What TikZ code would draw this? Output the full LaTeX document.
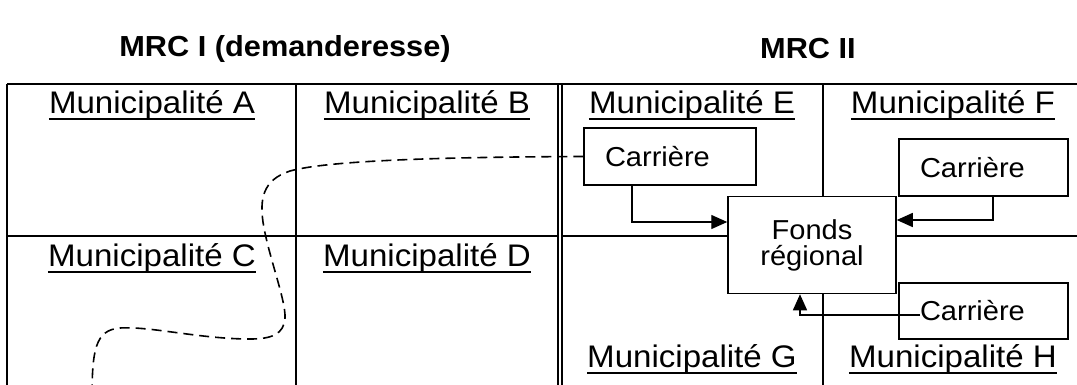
\documentclass[tikz,border=0pt]{standalone}
\usepackage{fontspec}
\setmainfont[FakeStretch=1.06]{Liberation Sans}
\usetikzlibrary{arrows.meta}
\begin{document}
\begin{tikzpicture}[x=1pt,y=-1pt,
  grid/.style={line width=1.8pt},
  thin grid/.style={line width=1.3pt},
  mun/.style={font=\fontsize{31.2}{34}\selectfont, anchor=base, inner sep=0pt},
  ulin/.style={line width=1.9pt},
  carr/.style={draw, line width=1.5pt, fill=white, font=\fontsize{27.4}{29}\selectfont, minimum height=57pt, inner xsep=21pt, align=left},
  fondsbox/.style={draw, line width=1.5pt, fill=white, minimum width=168pt, minimum height=97pt, align=center, font=\fontsize{27.4}{26}\selectfont},
  arr/.style={line width=1.4pt, -{Triangle[length=16pt,width=14pt]}},
  dsh/.style={line width=1.6pt, dash pattern=on 10pt off 6pt},
  head/.style={font=\fontsize{29}{32}\selectfont\bfseries}]
\useasboundingbox (0,0) rectangle (1077,384);
\clip (0,0) rectangle (1077,384);

% headers
\node[head] (h1) at (285,49) {MRC I (demanderesse)};
\node[head] (h2) at (808,49) {MRC II};

% grid
\draw[grid] (7,84) -- (1100,84);
\draw[grid] (7,84) -- (7,400);
\draw[grid] (296,84) -- (296,400);
\draw[thin grid] (558,84) -- (558,400);
\draw[thin grid] (562,84) -- (562,400);
\draw[grid] (7,236) -- (558,236);
\draw[grid] (562,236) -- (1100,236);
\draw[grid] (823,84) -- (823,400);

% municipality labels
\node[mun] (mA) at (152,113) {Municipalité A};
\node[mun] (mB) at (427,113) {Municipalité B};
\node[mun] (mE) at (692,113) {Municipalité E};
\node[mun] (mF) at (953,113) {Municipalité F};
\node[mun] (mC) at (152,266) {Municipalité C};
\node[mun] (mD) at (427,266) {Municipalité D};
\node[mun] (mG) at (692,367) {Municipalité G};
\node[mun] (mH) at (953,367) {Municipalité H};
\foreach \n in {mA,mB,mC,mD,mE,mF,mG,mH}
  \draw[ulin] ([yshift=-6pt]\n.base west) -- ([yshift=-6pt]\n.base east);

% boxes
\node[carr, text width=130pt] (cE) at (670,156.5) {Carrière};
\node[carr, text width=127pt] (cF) at (983.5,167.5) {Carrière};
\node[carr, text width=127pt, minimum height=56pt] (cH) at (983.5,311) {Carrière};
\node[fondsbox] (fonds) at (812,245) {Fonds\\régional};

% dashed path
\coordinate (dEnd) at (92,400);
\draw[dsh] (cE.west) .. controls (450,157) and (330,160) .. (290,171)
  .. controls (262,180) and (260,200) .. (263,222)
  .. controls (268,255) and (286,300) .. (285,318)
  .. controls (284,334) and (272,339) .. (250,339)
  .. controls (200,339) and (150,326) .. (120,328)
  .. controls (95,330) and (92,350) .. (dEnd);

% arrows
\draw[arr] ([xshift=-38pt]cE.south) |- ([yshift=23pt]fonds.west);
\draw[arr] ([xshift=9.5pt]cF.south) |- ([yshift=25pt]fonds.east);
\draw[arr] ([xshift=-63.5pt,yshift=-4pt]cH.center) -| ([xshift=-12pt]fonds.south);
\end{tikzpicture}
\end{document}
